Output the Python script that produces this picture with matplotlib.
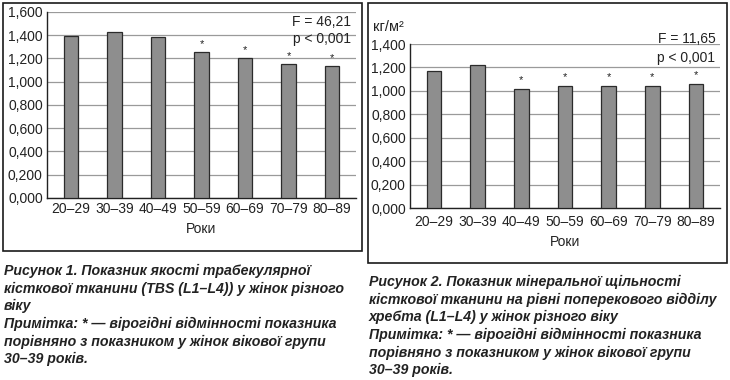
import matplotlib
matplotlib.use("Agg")
import matplotlib.pyplot as plt
from matplotlib.patches import Rectangle

plt.rcParams['font.family'] = ['Liberation Sans', 'DejaVu Sans']

categories = ["20–29", "30–39", "40–49", "50–59", "60–69", "70–79", "80–89"]
tbs_values = [1.392, 1.425, 1.381, 1.254, 1.200, 1.152, 1.133]
tbs_signif = [False, False, False, True, True, True, True]
bmd_values = [1.172, 1.222, 1.018, 1.043, 1.043, 1.043, 1.060]
bmd_signif = [False, False, True, True, True, True, True]
tbs_ticks = [0.0, 0.2, 0.4, 0.6, 0.8, 1.0, 1.2, 1.4, 1.6]
bmd_ticks = [0.0, 0.2, 0.4, 0.6, 0.8, 1.0, 1.2, 1.4]
tbs_stats = "F = 46,21\np < 0,001"
bmd_stats = "F = 11,65\np < 0,001"
xlabel = "Роки"
unit = "кг/м²"
caption1 = ("Рисунок 1. Показник якості трабекулярної\n"
            "кісткової тканини (TBS (L1–L4)) у жінок різного\n"
            "віку\n"
            "Примітка: * — вірогідні відмінності показника\n"
            "порівняно з показником у жінок вікової групи\n"
            "30–39 років.")
caption2 = ("Рисунок 2. Показник мінеральної щільності\n"
            "кісткової тканини на рівні поперекового відділу\n"
            "хребта (L1–L4) у жінок різного віку\n"
            "Примітка: * — вірогідні відмінності показника\n"
            "порівняно з показником у жінок вікової групи\n"
            "30–39 років.")

W, H = 730, 380
fig = plt.figure(figsize=(W / 100, H / 100), dpi=100)


def px_axes(x0, y0, x1, y1):
    return fig.add_axes([x0 / W, 1 - y1 / H, (x1 - x0) / W, (y1 - y0) / H])


def box(x0, y0, x1, y1):
    fig.patches.append(Rectangle((x0 / W, 1 - y1 / H), (x1 - x0) / W, (y1 - y0) / H,
                                 transform=fig.transFigure, fill=False,
                                 edgecolor='#1a1a1a', linewidth=1.2))


def fmt(v):
    return f"{v:.3f}".replace('.', ',')


def draw(ax, values, signif, ticks, stats, stats_y, stats_ls, tick_pad, label_pad):
    x = list(range(len(categories)))
    ax.set_axisbelow(True)
    ax.bar(x, values, width=0.33, color='#8e8e8e', edgecolor='#2b2b2b', linewidth=0.9, zorder=3)
    for xi, v, s in zip(x, values, signif):
        if s:
            ax.text(xi, v + 0.03, "*", ha='center', va='bottom', fontsize=8, color='#222222')
    ax.set_xlim(-0.55, len(categories) - 0.45)
    ax.set_ylim(ticks[0], ticks[-1])
    ax.set_yticks(ticks)
    ax.set_yticklabels([fmt(t) for t in ticks], fontsize=10, color='#222222')
    ax.set_xticks(x)
    ax.set_xticklabels(categories, fontsize=10, color='#222222')
    ax.tick_params(axis='y', length=0, pad=3)
    ax.tick_params(axis='x', length=0, pad=tick_pad)
    ax.yaxis.grid(True, color='#9a9a9a', linewidth=0.9)
    for sp in ['top', 'right']:
        ax.spines[sp].set_visible(False)
    for sp in ['left', 'bottom']:
        ax.spines[sp].set_color('#222222')
        ax.spines[sp].set_linewidth(1.0)
    ax.set_xlabel(xlabel, fontsize=10, color='#222222', labelpad=label_pad)
    ax.text(0.985, stats_y, stats, transform=ax.transAxes, ha='right', va='top',
            fontsize=10, color='#222222', linespacing=stats_ls)


ax1 = px_axes(47, 12, 356, 198)
draw(ax1, tbs_values, tbs_signif, tbs_ticks, tbs_stats, 0.985, 1.25, 3, 4)
ax2 = px_axes(410, 44, 720, 208)
draw(ax2, bmd_values, bmd_signif, bmd_ticks, bmd_stats, 1.075, 1.45, 5, 4)
fig.text(373 / W, 1 - 27 / H, unit, ha='left', va='center', fontsize=10.5, color='#222222')

box(3, 3, 362, 251)
box(368, 3, 727, 263)

fig.text(4 / W, 1 - 264 / H, caption1, ha='left', va='top', fontsize=10.2,
         fontweight='bold', fontstyle='italic', color='#222222', linespacing=1.32)
fig.text(369 / W, 1 - 275 / H, caption2, ha='left', va='top', fontsize=10.2,
         fontweight='bold', fontstyle='italic', color='#222222', linespacing=1.32)

fig.savefig("out.png", dpi=100)
